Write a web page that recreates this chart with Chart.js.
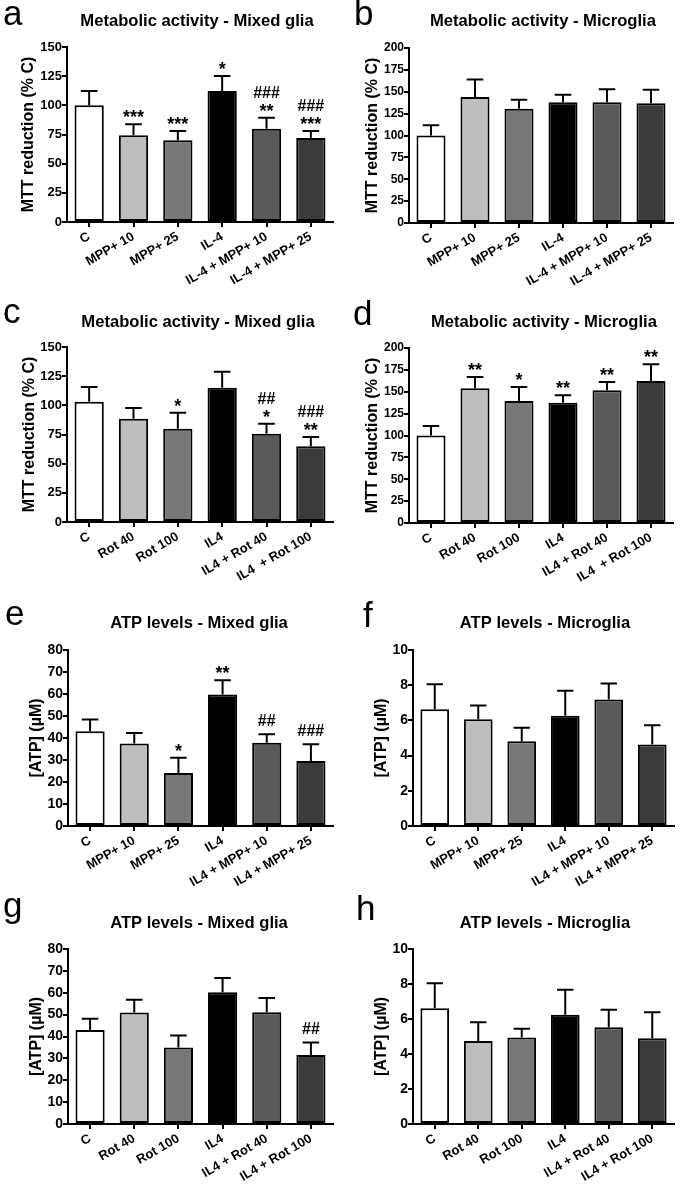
<!DOCTYPE html>
<html lang="en">
<head>
<meta charset="UTF-8">
<title>Metabolic activity and ATP levels - Mixed glia / Microglia</title>
<script src="https://cdn.jsdelivr.net/npm/chart.js"></script>
<style>
    * { margin: 0; padding: 0; box-sizing: border-box; }
    body { background: #fff; width: 682px; height: 1190px; position: relative; overflow: hidden; }
    .panel { position: absolute; width: 341px; }
    canvas { display: block; }
</style>
</head>
<body>
<div class="panel" style="left:0;top:0"><canvas id="pa" width="341" height="300"></canvas></div>
<div class="panel" style="left:341px;top:0"><canvas id="pb" width="341" height="300"></canvas></div>
<div class="panel" style="left:0;top:300px"><canvas id="pc" width="341" height="300"></canvas></div>
<div class="panel" style="left:341px;top:300px"><canvas id="pd" width="341" height="300"></canvas></div>
<div class="panel" style="left:0;top:600px"><canvas id="pe" width="341" height="295"></canvas></div>
<div class="panel" style="left:341px;top:600px"><canvas id="pf" width="341" height="295"></canvas></div>
<div class="panel" style="left:0;top:895px"><canvas id="pg" width="341" height="295"></canvas></div>
<div class="panel" style="left:341px;top:895px"><canvas id="ph" width="341" height="295"></canvas></div>

<script>
// category labels
const labelsMppDash = ['C', 'MPP+ 10', 'MPP+ 25', 'IL-4', 'IL-4 + MPP+ 10', 'IL-4 + MPP+ 25'];
const labelsMpp = ['C', 'MPP+ 10', 'MPP+ 25', 'IL4', 'IL4 + MPP+ 10', 'IL4 + MPP+ 25'];
const labelsRotWide = ['C', 'Rot 40', 'Rot 100', 'IL4', 'IL4 + Rot 40', 'IL4  + Rot 100'];
const labelsRot = ['C', 'Rot 40', 'Rot 100', 'IL4', 'IL4 + Rot 40', 'IL4 + Rot 100'];

// a - MTT, mixed glia, MPP+
const mttGliaMpp = [100, 74.3, 70, 112.3, 80, 72];
const mttGliaMppErr = [12.3, 9.4, 8, 12.8, 9.4, 6];
const mttGliaMppSig = [[], ['***'], ['***'], ['*'], ['**', '###'], ['***', '###']];

// b - MTT, microglia, MPP+
const mttMicroMpp = [100, 144, 130.7, 138, 138, 137];
const mttMicroMppErr = [11.6, 20, 10.3, 8.7, 14.8, 15.4];
const mttMicroMppSig = [[], [], [], [], [], []];

// c - MTT, mixed glia, rotenone
const mttGliaRot = [103, 88.6, 80, 115, 75.7, 65];
const mttGliaRotErr = [12.7, 9.1, 13.7, 13.7, 8.6, 7.9];
const mttGliaRotSig = [[], [], ['*'], [], ['*', '##'], ['**', '###']];

// d - MTT, microglia, rotenone
const mttMicroRot = [100, 154, 139.4, 137.5, 151.6, 162.3];
const mttMicroRotErr = [10.9, 12.9, 16, 8.4, 9.5, 19];
const mttMicroRotSig = [[], ['**'], ['*'], ['**'], ['**'], ['**']];

// e - ATP, mixed glia, MPP+
const atpGliaMpp = [43.1, 37.5, 24.1, 59.8, 37.8, 29.6];
const atpGliaMppErr = [5.3, 4.8, 6.9, 6.5, 3.9, 7.6];
const atpGliaMppSig = [[], [], ['*'], ['**'], ['##'], ['###']];

// f - ATP, microglia, MPP+
const atpMicroMpp = [6.64, 6.07, 4.82, 6.26, 7.19, 4.63];
const atpMicroMppErr = [1.42, 0.78, 0.76, 1.42, 0.91, 1.1];
const atpMicroMppSig = [[], [], [], [], [], []];

// g - ATP, mixed glia, rotenone
const atpGliaRot = [43, 51, 35, 60.2, 51.1, 31.6];
const atpGliaRotErr = [5.1, 5.8, 5.5, 6.5, 6.5, 5.7];
const atpGliaRotSig = [[], [], [], [], [], ['##']];

// h - ATP, microglia, rotenone
const atpMicroRot = [6.62, 4.75, 4.94, 6.24, 5.53, 4.9];
const atpMicroRotErr = [1.43, 1.07, 0.5, 1.43, 1.0, 1.49];
const atpMicroRotSig = [[], [], [], [], [], []];

// axis ranges and tick steps
const mttGliaMax = 150, mttGliaStep = 25;
const mttMicroMax = 200, mttMicroStep = 25;
const atpGliaMax = 80, atpGliaStep = 10;
const atpMicroMax = 10, atpMicroStep = 2;

const barFills = ['#ffffff', '#bebebe', '#787878', '#000000', '#5a5a5a', '#3b3b3b'];
const FONT = "'Liberation Sans', Arial, Helvetica, sans-serif";

Chart.defaults.font.family = FONT;
Chart.defaults.color = '#000';

// letter, title, error bars and significance marks
function overlay(p) {
    return {
        id: 'overlay',
        afterDatasetsDraw(chart) {
            const ctx = chart.ctx;
            const y = chart.scales.y;
            const meta = chart.getDatasetMeta(0);
            ctx.save();
            ctx.strokeStyle = '#000';
            ctx.fillStyle = '#000';
            ctx.lineWidth = 2;
            ctx.textAlign = 'center';
            ctx.textBaseline = 'alphabetic';
            meta.data.forEach((bar, i) => {
                const top = y.getPixelForValue(p.means[i] + p.errors[i]);
                const half = bar.width / 4 + 1;
                ctx.beginPath();
                ctx.moveTo(bar.x, bar.y);
                ctx.lineTo(bar.x, top);
                ctx.moveTo(bar.x - half, top);
                ctx.lineTo(bar.x + half, top);
                ctx.stroke();

                let base = top;
                p.sig[i].forEach((m, k) => {
                    const hash = m.startsWith('#');
                    if (k === 0) base = top - (hash ? 8 : 1);
                    else base -= 19;
                    ctx.font = 'bold ' + (hash ? 16 : 18) + 'px ' + FONT;
                    ctx.fillText(m, bar.x, base);
                });
            });
            ctx.restore();
        },
        afterDraw(chart) {
            const ctx = chart.ctx;
            ctx.save();
            ctx.fillStyle = '#000';
            ctx.textBaseline = 'alphabetic';
            ctx.textAlign = 'left';
            ctx.font = '35px ' + FONT;
            ctx.fillText(p.letter, p.letterPos[0], p.letterPos[1]);
            ctx.textAlign = 'center';
            ctx.font = 'bold 16.6px ' + FONT;
            ctx.fillText(p.title, p.titlePos[0], p.titlePos[1]);
            ctx.restore();
        }
    };
}

function makePanel(id, p) {
    const canvas = document.getElementById(id);
    const W = canvas.width, H = canvas.height;
    const xFont = { family: FONT, size: 13, weight: 'bold' };
    const yFont = { family: FONT, size: p.tickSize, weight: 'bold' };
    new Chart(canvas, {
        type: 'bar',
        data: {
            labels: p.labels,
            datasets: [{
                data: p.means,
                backgroundColor: barFills,
                borderColor: '#000',
                borderWidth: 2,
                borderSkipped: false,
                barPercentage: 0.66,
                categoryPercentage: 1
            }]
        },
        options: {
            responsive: false,
            animation: false,
            events: [],
            layout: { padding: { top: p.area[1], right: W - p.area[2], left: 0, bottom: 0 } },
            plugins: { legend: { display: false }, tooltip: { enabled: false } },
            scales: {
                x: {
                    grid: { offset: false, drawOnChartArea: false, color: '#000', lineWidth: 2, tickLength: 5 },
                    border: { display: true, color: '#000', width: 2 },
                    ticks: { color: '#000', font: xFont, minRotation: 30, maxRotation: 30, autoSkip: false, padding: 2 },
                    afterFit: s => { s.height = H - p.area[3]; }
                },
                y: {
                    min: 0,
                    max: p.max,
                    ticks: { stepSize: p.step, color: '#000', font: yFont, padding: 0 },
                    grid: { drawOnChartArea: false, color: '#000', lineWidth: 2, tickLength: 5 },
                    border: { display: true, color: '#000', width: 2 },
                    title: {
                        display: true,
                        text: p.yTitle,
                        color: '#000',
                        font: { family: FONT, size: 16, weight: 'bold' },
                        padding: { top: p.yTitlePad, bottom: 0 }
                    },
                    afterFit: s => { s.width = p.area[0]; }
                }
            }
        },
        plugins: [overlay(p)]
    });
}

const mttTitle = 'MTT reduction (% C)';
const atpTitle = '[ATP] (\u00B5M)';

makePanel('pa', { letter: 'a', letterPos: [3, 25], title: 'Metabolic activity - Mixed glia', titlePos: [197, 26],
    labels: labelsMppDash, means: mttGliaMpp, errors: mttGliaMppErr, sig: mttGliaMppSig, tickSize: 13,
    max: mttGliaMax, step: mttGliaStep, yTitle: mttTitle, yTitlePad: 19, area: [67, 47, 333, 222] });
makePanel('pb', { letter: 'b', letterPos: [13, 25], title: 'Metabolic activity - Microglia', titlePos: [202, 26],
    labels: labelsMppDash, means: mttMicroMpp, errors: mttMicroMppErr, sig: mttMicroMppSig, tickSize: 12,
    max: mttMicroMax, step: mttMicroStep, yTitle: mttTitle, yTitlePad: 22, area: [68, 48, 332, 223] });
makePanel('pc', { letter: 'c', letterPos: [3, 23], title: 'Metabolic activity - Mixed glia', titlePos: [198, 27],
    labels: labelsRotWide, means: mttGliaRot, errors: mttGliaRotErr, sig: mttGliaRotSig, tickSize: 13,
    max: mttGliaMax, step: mttGliaStep, yTitle: mttTitle, yTitlePad: 20, area: [67, 47, 333, 222] });
makePanel('pd', { letter: 'd', letterPos: [12, 25], title: 'Metabolic activity - Microglia', titlePos: [203, 27],
    labels: labelsRotWide, means: mttMicroRot, errors: mttMicroRotErr, sig: mttMicroRotSig, tickSize: 12,
    max: mttMicroMax, step: mttMicroStep, yTitle: mttTitle, yTitlePad: 22, area: [68, 48, 332, 223] });
makePanel('pe', { letter: 'e', letterPos: [5, 25], title: 'ATP levels - Mixed glia', titlePos: [199, 28],
    labels: labelsMpp, means: atpGliaMpp, errors: atpGliaMppErr, sig: atpGliaMppSig, tickSize: 14,
    max: atpGliaMax, step: atpGliaStep, yTitle: atpTitle, yTitlePad: 27, area: [68, 50, 333, 226] });
makePanel('pf', { letter: 'f', letterPos: [22, 27], title: 'ATP levels - Microglia', titlePos: [204, 28],
    labels: labelsMpp, means: atpMicroMpp, errors: atpMicroMppErr, sig: atpMicroMppSig, tickSize: 14,
    max: atpMicroMax, step: atpMicroStep, yTitle: atpTitle, yTitlePad: 31, area: [72, 50, 333, 226] });
makePanel('pg', { letter: 'g', letterPos: [3, 22], title: 'ATP levels - Mixed glia', titlePos: [199, 33],
    labels: labelsRot, means: atpGliaRot, errors: atpGliaRotErr, sig: atpGliaRotSig, tickSize: 14,
    max: atpGliaMax, step: atpGliaStep, yTitle: atpTitle, yTitlePad: 27, area: [68, 54, 333, 229] });
makePanel('ph', { letter: 'h', letterPos: [15, 25], title: 'ATP levels - Microglia', titlePos: [204, 33],
    labels: labelsRot, means: atpMicroRot, errors: atpMicroRotErr, sig: atpMicroRotSig, tickSize: 14,
    max: atpMicroMax, step: atpMicroStep, yTitle: atpTitle, yTitlePad: 31, area: [72, 54, 333, 229] });
</script>
</body>
</html>
